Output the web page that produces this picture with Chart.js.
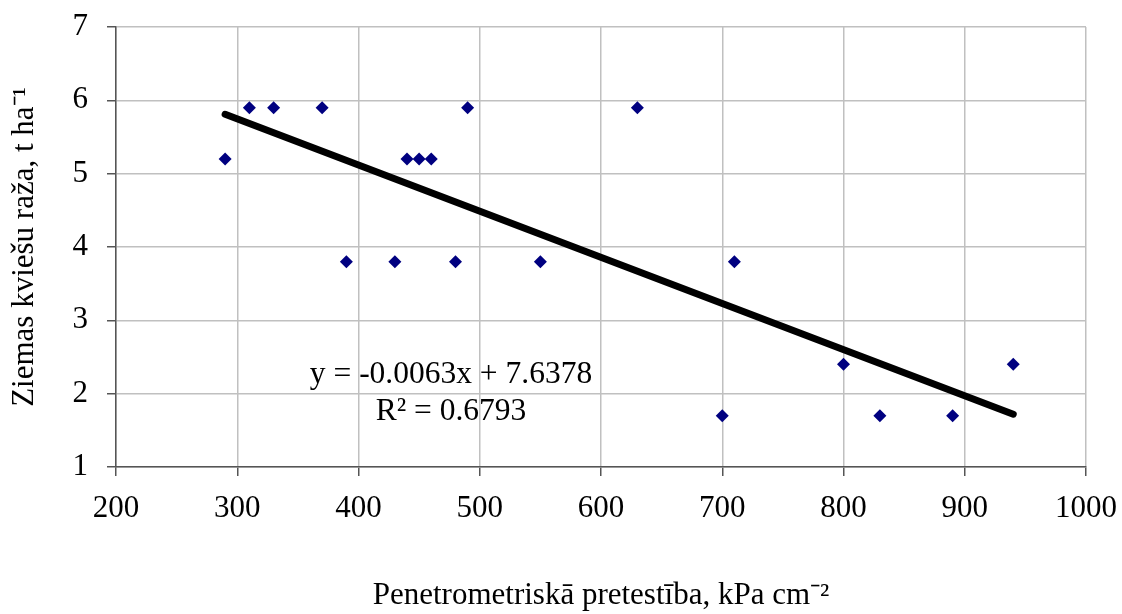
<!DOCTYPE html>
<html>
<head>
<meta charset="utf-8">
<script src="https://cdn.jsdelivr.net/npm/chart.js@4"></script>
<style>
  html, body { margin: 0; padding: 0; background: #fff; }
  #wrap { width: 1122px; height: 614px; }
</style>
</head>
<body>
<div id="wrap"><canvas id="chart"></canvas></div>
<script>
// penetrometric resistance (kPa cm-2) vs winter wheat yield (t/ha)
const resistance = [290, 310, 330, 370, 390, 430, 440, 450, 460, 480, 490, 550, 630, 700, 710, 800, 830, 890, 940];
const yieldVals  = [5.2, 5.9, 5.9, 5.9, 3.8, 3.8, 5.2, 5.2, 5.2, 3.8, 5.9, 3.8, 5.9, 1.7, 3.8, 2.4, 1.7, 1.7, 2.4];

// linear trend line ends
const trendX = [290, 940];
const trendY = [5.81, 1.72];
const trendLabel = ['y = -0.0063x + 7.6378', 'R² = 0.6793'];

const xTitle = 'Penetrometriskā pretestība, kPa cm⁻²';
const yTitle = 'Ziemas kviešu raža, t ha⁻¹';

const FONT = "'Liberation Serif', 'Times New Roman', serif";

const equationText = {
    id: 'equationText',
    afterDatasetsDraw(chart) {
        const ctx = chart.ctx;
        ctx.save();
        ctx.fillStyle = '#000';
        ctx.font = '31.5px ' + FONT;
        ctx.textAlign = 'center';
        ctx.textBaseline = 'alphabetic';
        ctx.fillText(trendLabel[0], 451, 383);
        ctx.fillText(trendLabel[1], 451, 420);
        ctx.restore();
    }
};

new Chart(document.getElementById('chart'), {
    type: 'scatter',
    data: {
        datasets: [{
            label: 'Raža',
            data: resistance.map((x, i) => ({ x: x, y: yieldVals[i] })),
            pointStyle: 'rectRot',
            pointRadius: 6.5,
            backgroundColor: '#000080',
            borderColor: '#000080',
            borderWidth: 0,
            order: 1
        }, {
            type: 'line',
            label: 'Trend',
            data: trendX.map((x, i) => ({ x: x, y: trendY[i] })),
            borderColor: '#000',
            borderWidth: 7,
            borderCapStyle: 'round',
            pointRadius: 0,
            fill: false,
            order: 2
        }]
    },
    options: {
        responsive: true,
        maintainAspectRatio: false,
        animation: false,
        layout: { padding: { top: 27, right: 36, left: 0, bottom: 0 } },
        plugins: {
            legend: { display: false },
            tooltip: { enabled: false }
        },
        scales: {
            x: {
                type: 'linear',
                min: 200,
                max: 1000,
                ticks: {
                    stepSize: 100,
                    color: '#000',
                    padding: 14,
                    font: { family: FONT, size: 31 },
                    callback: v => String(v)
                },
                grid: { color: '#c0c0c0', lineWidth: 1.5, tickLength: 9, tickColor: '#555' },
                border: { color: '#555', width: 1.5 },
                title: {
                    display: true,
                    text: xTitle,
                    color: '#000',
                    font: { family: FONT, size: 31 },
                    padding: { top: 0, bottom: 0 }
                },
                afterFit(scale) {
                    scale.height = 147;
                    scale.paddingLeft = 0;
                    scale.paddingRight = 0;
                }
            },
            y: {
                min: 1,
                max: 7,
                ticks: {
                    stepSize: 1,
                    color: '#000',
                    padding: 19,
                    font: { family: FONT, size: 31 }
                },
                grid: { color: '#c0c0c0', lineWidth: 1.5, tickLength: 9, tickColor: '#555' },
                border: { color: '#555', width: 1.5 },
                title: {
                    display: true,
                    text: yTitle,
                    color: '#000',
                    font: { family: FONT, size: 31 },
                    padding: { top: 6, bottom: 0 }
                },
                afterFit(scale) {
                    scale.width = 116;
                    scale.paddingTop = 0;
                    scale.paddingBottom = 0;
                }
            }
        }
    },
    plugins: [equationText]
});
</script>
</body>
</html>
